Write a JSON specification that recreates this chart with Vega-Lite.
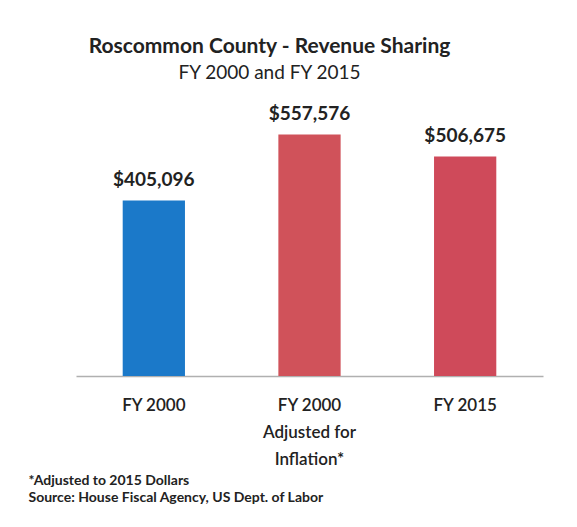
{
  "$schema": "https://vega.github.io/schema/vega-lite/v6.json",
  "width": 467,
  "height": 260,
  "autosize": "none",
  "padding": {"left": 76, "top": 116, "right": 34, "bottom": 151},
  "background": "white",
  "config": {"view": {"stroke": null}},
  "title": {
    "text": "Roscommon County - Revenue Sharing",
    "subtitle": "FY 2000 and FY 2015",
    "font": "Lato",
    "fontSize": 21,
    "fontWeight": "bold",
    "subtitleFont": "Lato",
    "subtitleFontSize": 19,
    "subtitleFontWeight": "normal",
    "color": "#222222",
    "subtitleColor": "#222222",
    "anchor": "middle",
    "dx": -40,
    "offset": 22,
    "subtitlePadding": 7
  },
  "data": {
    "values": [
      {"category": "FY 2000", "amount": 405096, "group": "FY 2000"},
      {"category": "FY 2000 Adjusted for Inflation*", "amount": 557576, "group": "Adjusted"},
      {"category": "FY 2015", "amount": 506675, "group": "FY 2015"}
    ]
  },
  "encoding": {
    "x": {
      "field": "category",
      "type": "nominal",
      "sort": null,
      "scale": {"paddingInner": 0.6, "paddingOuter": 0.3},
      "axis": {
        "labelAngle": 0,
        "ticks": false,
        "domainColor": "#b0b0b0",
        "domainWidth": 1.5,
        "labelPadding": 21,
        "labelBaseline": "top",
        "labelFont": "Lato",
        "labelFontSize": 17,
        "labelFontWeight": 600,
        "labelColor": "#222222",
        "labelLineHeight": 27,
        "labelExpr": "datum.label == 'FY 2000 Adjusted for Inflation*' ? ['FY 2000', 'Adjusted for', 'Inflation*'] : datum.label",
        "title": ["*Adjusted to 2015 Dollars", "Source: House Fiscal Agency, US Dept. of Labor"],
        "titleFont": "Lato",
        "titleFontSize": 14,
        "titleFontWeight": "bold",
        "titleColor": "#222222",
        "titleLineHeight": 17,
        "titleAnchor": "start",
        "titleAlign": "left",
        "titleBaseline": "top",
        "titleX": -48,
        "titleY": 97
      }
    },
    "y": {
      "field": "amount",
      "type": "quantitative",
      "scale": {"domain": [0, 600000]},
      "axis": null
    }
  },
  "layer": [
    {
      "mark": {"type": "bar", "stroke": null},
      "encoding": {
        "color": {
          "field": "group",
          "type": "nominal",
          "scale": {"domain": ["FY 2000", "Adjusted", "FY 2015"], "range": ["#1b79c9", "#d0525a", "#cf4a5a"]},
          "legend": null
        }
      }
    },
    {
      "mark": {"type": "text", "baseline": "alphabetic", "dy": -14, "font": "Lato", "fontSize": 19, "fontWeight": "bold", "color": "#222222"},
      "encoding": {
        "text": {"field": "amount", "type": "quantitative", "format": "$,.0f"}
      }
    }
  ]
}
